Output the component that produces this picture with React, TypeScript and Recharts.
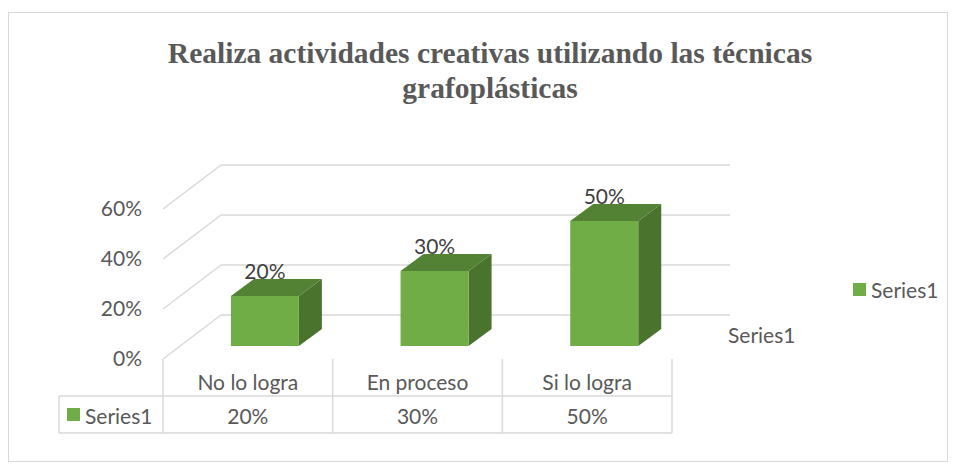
import React from "react";
import {
  Bar,
  BarChart,
  CartesianGrid,
  LabelList,
  Legend,
  XAxis,
  YAxis,
} from "recharts";

// datos del gráfico
const categories = ["No lo logra", "En proceso", "Si lo logra"];
const values = [20, 30, 50];
const yTicks = [0, 20, 40, 60];
const seriesName = "Series1";

const data = categories.map((name, i) => ({ name, value: values[i] }));

const FONT = "Lato, 'Open Sans', sans-serif";
const FS = 21;
const TEXT = "#595959";
const GRID = "#d9d9d9";

// profundidad de la vista 3D (pared del fondo)
const DEPTH_X = 58;
const DEPTH_Y = -44;
// posición de la barra dentro de la profundidad
const BAR_X = 17;
const BAR_Y = -13;
const SIDE_X = 23;
const SIDE_Y = -17;
const BAND = 509 / 3;

const pct = (v: number) => `${v}%`;

function Bar3D(props: any) {
  const { x, y, width, height } = props;
  const fx = x + BAR_X;
  const fy = y + BAR_Y;
  const w = width;
  const h = height;
  return (
    <g>
      <polygon
        points={`${fx + w},${fy} ${fx + w + SIDE_X},${fy + SIDE_Y} ${fx + w + SIDE_X},${fy + h + SIDE_Y} ${fx + w},${fy + h}`}
        fill="#4a732d"
      />
      <polygon
        points={`${fx},${fy} ${fx + SIDE_X},${fy + SIDE_Y} ${fx + w + SIDE_X},${fy + SIDE_Y} ${fx + w},${fy}`}
        fill="#548235"
      />
      <rect x={fx} y={fy} width={w} height={h} fill="#70ad47" />
    </g>
  );
}

function GridLine(props: any) {
  const { x1, y1, x2, index } = props;
  return (
    <g key={`g-${index}`}>
      <line
        x1={x1 + DEPTH_X}
        y1={y1 + DEPTH_Y}
        x2={x2 + DEPTH_X}
        y2={y1 + DEPTH_Y}
        stroke={GRID}
        strokeWidth={1.5}
      />
      <line
        x1={x1 + DEPTH_X}
        y1={y1 + DEPTH_Y}
        x2={x1}
        y2={y1}
        stroke={GRID}
        strokeWidth={1.5}
      />
    </g>
  );
}

function BarLabel(props: any) {
  const { x, y, width, value } = props;
  return (
    <text
      x={x + BAR_X + width / 2}
      y={y + BAR_Y - 26}
      textAnchor="middle"
      dominantBaseline="central"
      fill="#404040"
      fontSize={FS}
      fontFamily={FONT}
    >
      {pct(value)}
    </text>
  );
}

// tabla de datos bajo el eje de categorías
function TableTick(props: any) {
  const { x, y, payload } = props;
  const i = payload.index;
  const half = BAND / 2;
  const row1 = y + 37;
  const row2 = y + 74;
  const left = x - half - 104;
  const right = x - half + BAND * categories.length;
  return (
    <g>
      {i === 0 && (
        <g>
          <line x1={x - half} y1={y} x2={x - half} y2={row2} stroke={GRID} strokeWidth={1.5} />
          <line x1={left} y1={row1} x2={right} y2={row1} stroke={GRID} strokeWidth={1.5} />
          <line x1={left} y1={row2} x2={right} y2={row2} stroke={GRID} strokeWidth={1.5} />
          <line x1={left} y1={row1} x2={left} y2={row2} stroke={GRID} strokeWidth={1.5} />
          <rect x={left + 8} y={row1 + 12} width={13} height={13} fill="#70ad47" />
          <text x={left + 26} y={row1 + 19} dominantBaseline="central" fill={TEXT} fontSize={FS} fontFamily={FONT}>
            {seriesName}
          </text>
        </g>
      )}
      <line x1={x + half} y1={y} x2={x + half} y2={row2} stroke={GRID} strokeWidth={1.5} />
      <text x={x} y={y + 22} textAnchor="middle" dominantBaseline="central" fill={TEXT} fontSize={FS} fontFamily={FONT}>
        {payload.value}
      </text>
      <text x={x} y={row1 + 19} textAnchor="middle" dominantBaseline="central" fill={TEXT} fontSize={FS} fontFamily={FONT}>
        {pct(values[i])}
      </text>
    </g>
  );
}

export default function App() {
  return (
    <div style={{ position: "relative", width: 956, height: 468, background: "#fff", fontFamily: FONT }}>
      <style>{`body{margin:0}`}</style>
      <div
        style={{
          position: "absolute",
          left: 8,
          top: 12,
          width: 940,
          height: 450,
          border: `1px solid ${GRID}`,
          boxSizing: "border-box",
        }}
      />
      <div
        style={{
          position: "absolute",
          left: 0,
          top: 36,
          width: 980,
          textAlign: "center",
          fontFamily: "'Liberation Serif', 'Times New Roman', serif",
          fontWeight: "bold",
          fontSize: 29.5,
          lineHeight: "35px",
          color: TEXT,
        }}
      >
        Realiza actividades creativas utilizando las técnicas
        <br />
        grafoplásticas
      </div>
      <div style={{ position: "absolute", left: 0, top: 0 }}>
        <BarChart
          width={956}
          height={468}
          data={data}
          margin={{ top: 209, right: 284, bottom: 9, left: 63 }}
          barCategoryGap="30%"
        >
          <CartesianGrid vertical={false} horizontal={GridLine} />
          <YAxis
            domain={[0, 60]}
            ticks={yTicks}
            tickFormatter={pct}
            width={100}
            axisLine={false}
            tickLine={false}
            tickSize={0}
            tickMargin={21}
            tick={{ fill: TEXT, fontSize: FS, fontFamily: FONT }}
          />
          <XAxis
            dataKey="name"
            height={100}
            axisLine={false}
            tickLine={false}
            tickSize={0}
            tickMargin={0}
            interval={0}
            tick={TableTick}
          />
          <Legend
            layout="horizontal"
            verticalAlign="middle"
            align="center"
            wrapperStyle={{ left: 853, top: 277, width: 100 }}
            content={() => (
              <div style={{ display: "flex", alignItems: "center", color: TEXT, fontSize: FS, fontFamily: FONT }}>
                <span style={{ display: "inline-block", width: 13, height: 13, background: "#70ad47", marginRight: 5 }} />
                {seriesName}
              </div>
            )}
          />
          <Bar dataKey="value" name={seriesName} fill="#70ad47" shape={Bar3D} isAnimationActive={false}>
            <LabelList dataKey="value" content={BarLabel} />
          </Bar>
        </BarChart>
      </div>
      <div style={{ position: "absolute", left: 728, top: 322, color: TEXT, fontSize: FS }}>{seriesName}</div>
    </div>
  );
}
